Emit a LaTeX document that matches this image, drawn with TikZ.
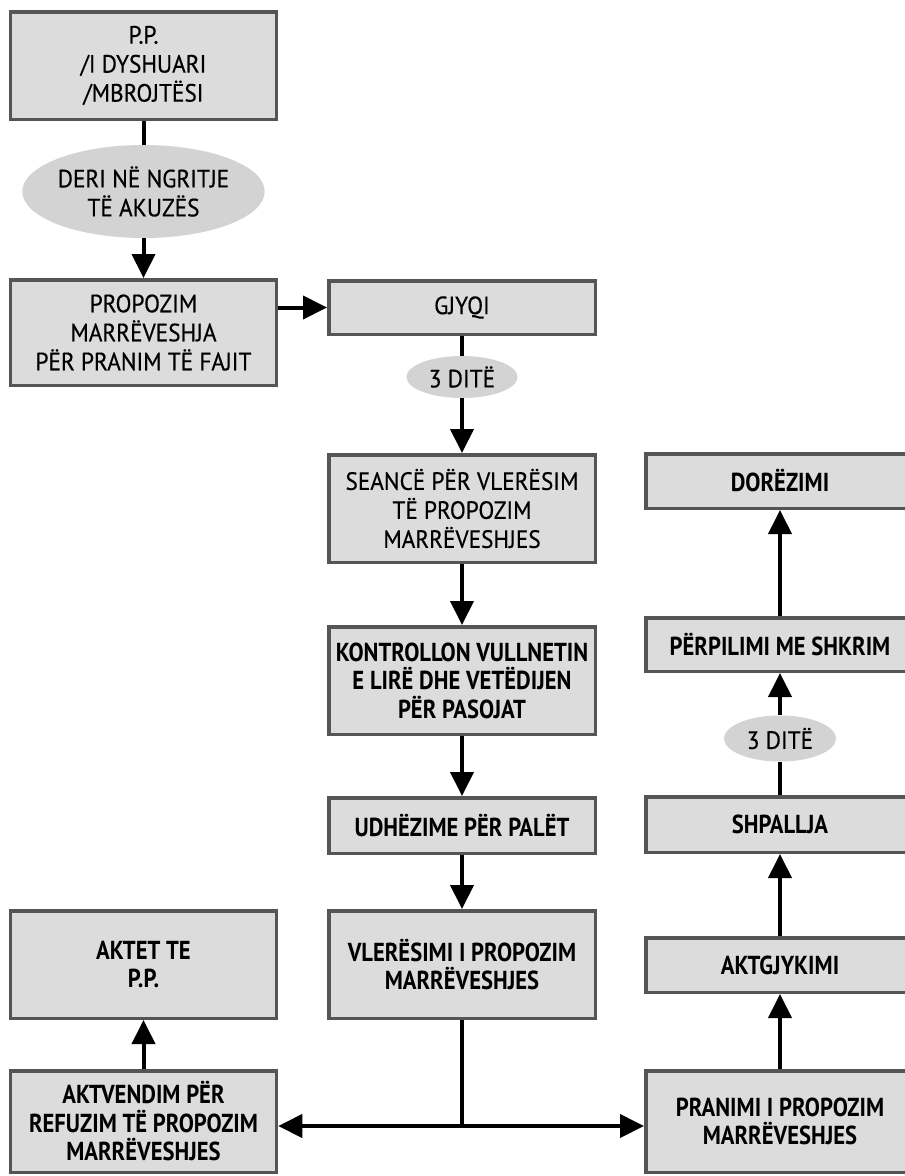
\documentclass[tikz,border=0pt]{standalone}
\usepackage{fontspec}
\setmainfont{PT Sans}[FakeBold=0.4,FakeStretch=0.93]
\newfontfamily\bcond{PT Sans}[FakeStretch=0.87]
\usetikzlibrary{arrows.meta,shapes.geometric}
\definecolor{boxfill}{HTML}{DCDCDC}
\definecolor{boxline}{HTML}{555555}
\definecolor{ellfill}{HTML}{D3D3D3}
\begin{document}
\begin{tikzpicture}[x=1pt,y=-1pt,
  box/.style={draw=boxline, line width=3.5pt, fill=boxfill, align=center, inner sep=0pt,
    font=\fontsize{25}{29}\selectfont},
  bbox/.style={box, font=\bcond\bfseries\fontsize{26}{28.5}\selectfont},
  lcol/.style={minimum width=266},
  mcol/.style={minimum width=266.5},
  rcol/.style={minimum width=268.5},
  oval/.style={ellipse, fill=ellfill, inner sep=0pt, align=center,
    font=\fontsize{25}{29}\selectfont},
  conn/.style={line width=4pt},
  arr/.style={conn, -{Triangle[length=24pt,width=23pt]}},
  darr/.style={conn, {Triangle[length=24pt,width=23pt]}-{Triangle[length=24pt,width=23pt]}}]
\useasboundingbox[fill=white] (0,0) rectangle (905,1176);

% left column
\node[box,lcol,minimum height=107.5] (pp) at (143.5,65.5) {P.P.\\/I DYSHUARI\\/MBROJTËSI};
\node[oval,minimum width=221,minimum height=93] (deri) at (143.5,191.5) {DERI NË NGRITJE\\TË AKUZËS};
\node[box,lcol,minimum height=105.5] (prop) at (143.5,332.5) {PROPOZIM\\MARRËVESHJA\\PËR PRANIM TË FAJIT};
\node[bbox,lcol,minimum height=107.5] (akt) at (143.5,964.5) {AKTET TE\\P.P.};
\node[bbox,lcol,minimum height=101.5] (avd) at (143.5,1121.5) {AKTVENDIM PËR\\REFUZIM TË PROPOZIM\\MARRËVESHJES};

% middle column
\node[box,mcol,minimum height=53.5] (gj) at (462,307.5) {GJYQI};
\node[oval,minimum width=111,minimum height=42] (e1) at (462,377) {3 DITË};
\node[box,mcol,minimum height=107.5] (sea) at (462,508.5) {SEANCË PËR VLERËSIM\\TË PROPOZIM\\MARRËVESHJES};
\node[bbox,mcol,minimum height=107.5] (kon) at (462,680.5) {KONTROLLON VULLNETIN\\E LIRË DHE VETËDIJEN\\PËR PASOJAT};
\node[bbox,mcol,minimum height=55.5] (udh) at (462,825.5) {UDHËZIME PËR PALËT};
\node[bbox,mcol,minimum height=107.5] (vle) at (462,964.5) {VLERËSIMI I PROPOZIM\\MARRËVESHJES};
\coordinate (j) at (462,1126);

% right column
\node[bbox,rcol,minimum height=54.5] (dor) at (780,481) {DORËZIMI};
\node[bbox,rcol,minimum height=53.5] (per) at (780,644.5) {PËRPILIMI ME SHKRIM};
\node[oval,minimum width=112,minimum height=46] (e2) at (780,738.5) {3 DITË};
\node[bbox,rcol,minimum height=55.5] (shp) at (780,824.5) {SHPALLJA};
\node[bbox,rcol,minimum height=54.5] (agj) at (780,965) {AKTGJYKIMI};
\node[bbox,rcol,minimum height=101.5] (pra) at (780,1121.5) {PRANIMI I PROPOZIM\\MARRËVESHJES};

% connectors
\draw[conn] (pp.south) -- (deri.north);
\draw[arr] (deri.south) -- (prop.north);
\draw[arr] (prop.east |- gj.west) -- (gj.west);
\draw[conn] (gj.south) -- (e1.north);
\draw[arr] (e1.south) -- (sea.north);
\draw[arr] (sea.south) -- (kon.north);
\draw[arr] (kon.south) -- (udh.north);
\draw[arr] (udh.south) -- (vle.north);
\draw[conn] (vle.south) -- (j);
\draw[darr] (avd.east |- j) -- (pra.west |- j);
\draw[arr] (avd.north) -- (akt.south);
\draw[arr] (pra.north) -- (agj.south);
\draw[arr] (agj.north) -- (shp.south);
\draw[conn] (shp.north) -- (e2.south);
\draw[arr] (e2.north) -- (per.south);
\draw[arr] (per.north) -- (dor.south);
\end{tikzpicture}
\end{document}
